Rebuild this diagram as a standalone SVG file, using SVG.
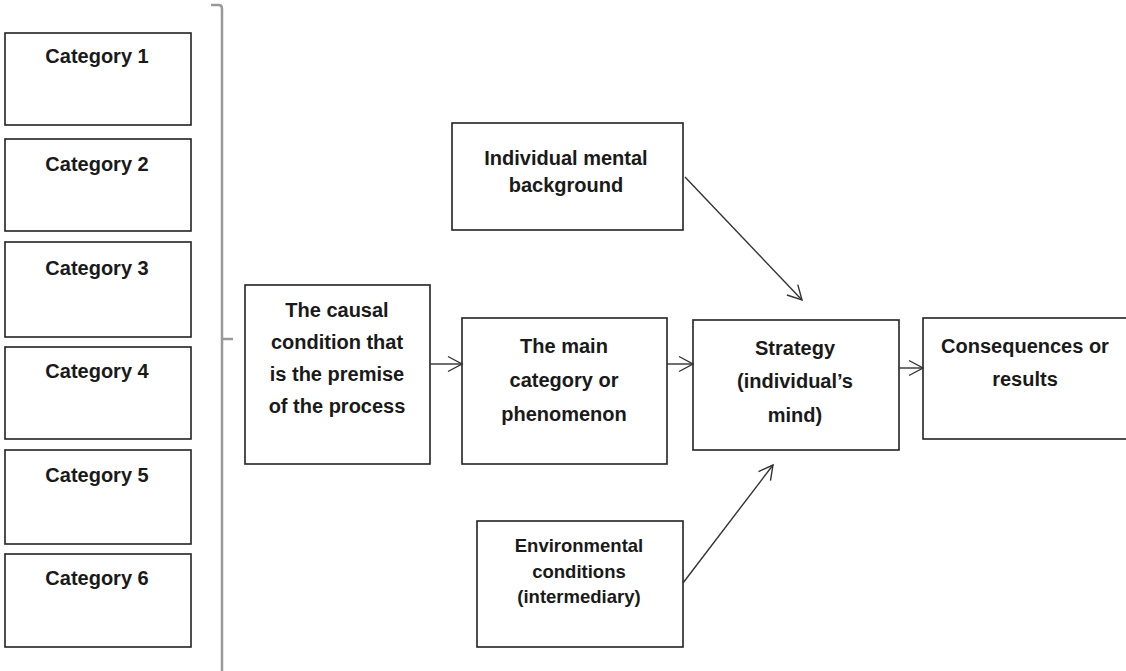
<svg xmlns="http://www.w3.org/2000/svg" width="1126" height="671" viewBox="0 0 1126 671">
<style>
.box{fill:#fff;stroke:#222;stroke-width:1.6}
.t{font-family:"Liberation Sans",Arial,sans-serif;font-weight:bold;font-size:20px;fill:#1a1a1a;text-anchor:middle}
.ts{font-family:"Liberation Sans",Arial,sans-serif;font-weight:bold;font-size:18.5px;fill:#1a1a1a;text-anchor:middle}
.c{fill:none;stroke:#333;stroke-width:1.4}
.br{fill:none;stroke:#999;stroke-width:2.5}
</style>
<defs>
<marker id="ah" markerUnits="userSpaceOnUse" markerWidth="18" markerHeight="18" viewBox="0 0 18 18" refX="15" refY="9" orient="auto">
<path d="M1,1.5 L15,9 L1,16.5" fill="none" stroke="#333" stroke-width="1.4"/>
</marker>
</defs>
<rect width="1126" height="671" fill="#fff"/>
<g id="bracket">
<path class="br" d="M211,5 L219,5 Q222,5 222,9 L222,671"/>
<path class="br" d="M222,339 L233,339"/>
</g>
<g id="cat1"><rect class="box" x="5" y="33" width="186" height="92"/><text class="t" x="97" y="63">Category 1</text></g>
<g id="cat2"><rect class="box" x="5" y="139" width="186" height="92"/><text class="t" x="97" y="171">Category 2</text></g>
<g id="cat3"><rect class="box" x="5" y="242" width="186" height="95"/><text class="t" x="97" y="275">Category 3</text></g>
<g id="cat4"><rect class="box" x="5" y="347" width="186" height="92"/><text class="t" x="97" y="378">Category 4</text></g>
<g id="cat5"><rect class="box" x="5" y="450" width="186" height="94"/><text class="t" x="97" y="482">Category 5</text></g>
<g id="cat6"><rect class="box" x="5" y="554" width="186" height="93"/><text class="t" x="97" y="585">Category 6</text></g>
<g id="causal"><rect class="box" x="245" y="285" width="185" height="179"/>
<text class="t" x="337" y="317">The causal</text>
<text class="t" x="337" y="349">condition that</text>
<text class="t" x="337" y="381">is the premise</text>
<text class="t" x="337" y="413">of the process</text></g>
<g id="main"><rect class="box" x="462" y="318" width="205" height="146"/>
<text class="t" x="564" y="353">The main</text>
<text class="t" x="564" y="387">category or</text>
<text class="t" x="564" y="421">phenomenon</text></g>
<g id="strategy"><rect class="box" x="693" y="320" width="206" height="130"/>
<text class="t" x="795" y="355">Strategy</text>
<text class="t" x="795" y="388">(individual’s</text>
<text class="t" x="795" y="422">mind)</text></g>
<g id="consequences"><rect class="box" x="923" y="318" width="205" height="121"/>
<text class="t" x="1025" y="353">Consequences or</text>
<text class="t" x="1025" y="386">results</text></g>
<g id="individual"><rect class="box" x="452" y="123" width="231" height="107"/>
<text class="t" x="566" y="165">Individual mental</text>
<text class="t" x="566" y="192">background</text></g>
<g id="environment"><rect class="box" x="477" y="521" width="206" height="126"/>
<text class="ts" x="579" y="552">Environmental</text>
<text class="ts" x="579" y="578">conditions</text>
<text class="ts" x="579" y="603">(intermediary)</text></g>
<g id="connectors">
<line class="c" x1="430" y1="364" x2="462" y2="364" marker-end="url(#ah)"/>
<line class="c" x1="667" y1="364" x2="693" y2="364" marker-end="url(#ah)"/>
<line class="c" x1="899" y1="368" x2="923" y2="368" marker-end="url(#ah)"/>
<line class="c" x1="685" y1="177" x2="802" y2="300" marker-end="url(#ah)"/>
<line class="c" x1="683" y1="583" x2="773" y2="465" marker-end="url(#ah)"/>
</g>
</svg>
